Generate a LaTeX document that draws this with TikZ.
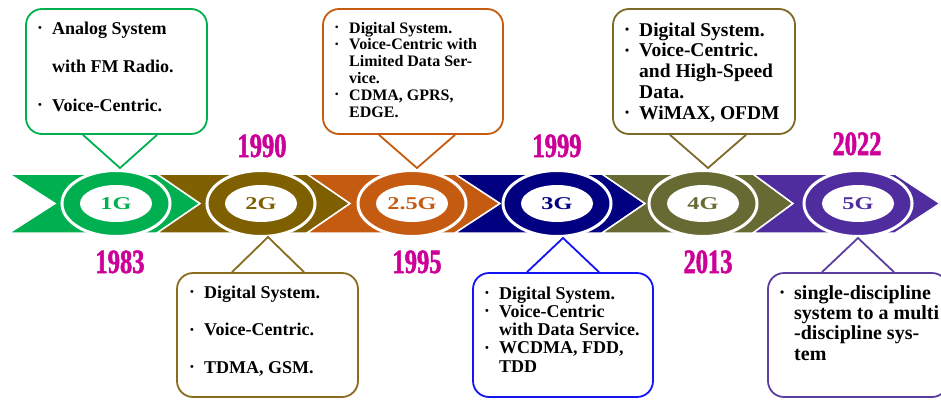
\documentclass[tikz,border=0pt]{standalone}
\usepackage{fontspec}
\setmainfont{Liberation Serif}
\newfontfamily\yearfont{Liberation Serif}[FakeStretch=0.72,FakeBold=1.5]
\newfontfamily\genfont{Liberation Serif}[FakeStretch=1.35]
\usetikzlibrary{shapes.geometric,calc}
\definecolor{cg}{HTML}{00B050}
\definecolor{cb}{HTML}{7F6000}
\definecolor{co}{HTML}{C55A11}
\definecolor{cn}{HTML}{000080}
\definecolor{cl}{HTML}{686A34}
\definecolor{cp}{HTML}{4F2D9F}
\definecolor{bxb}{HTML}{8A6C1E}
\definecolor{bxn}{HTML}{1414F5}
\definecolor{bxl}{HTML}{7D6A28}
\definecolor{bxp}{HTML}{5B3FA0}
\definecolor{cyear}{HTML}{CC0099}
\newcommand\bl{\makebox[14pt][l]{\raisebox{.3ex}{\scalebox{.6}{\textbullet}}}}
\newcommand\nb{\hspace*{14pt}}
\begin{document}
\begin{tikzpicture}[x=1pt,y=-1pt,
  seg/.style={draw=white,line width=1.5pt},
  ring/.style={ellipse,draw=white,line width=3pt,minimum width=108pt,minimum height=66pt,inner sep=0pt},
  hole/.style={ellipse,fill=white,minimum width=72pt,minimum height=37pt,inner sep=0pt},
  callbox/.style={draw,line width=1.8pt,rounded corners=16pt,fill=white,inner sep=0pt,minimum height=125pt},
  ptr/.style={line width=1.8pt,line join=miter},
  yr/.style={font=\yearfont\bfseries\fontsize{34}{34}\selectfont,text=cyear,anchor=base,inner sep=0pt},
  gl/.style={font=\genfont\bfseries\fontsize{18}{18}\selectfont,inner sep=0pt},
  txt/.style={anchor=base west,inner sep=0pt}]
\useasboundingbox (0,0) rectangle (941,399);
\clip (0,0) rectangle (941,399);
% band of chevrons
\foreach \L/\R/\T/\N/\c in {9/157/200/55/cg,157/307/350/200/cb,307/455/500/350/co,455/602/645/500/cn,602/753/793/645/cl,753/895/940/793/cp}{
  \fill[seg,fill=\c] (\L,174) -- (\R,174) -- (\T,203.5) -- (\R,233) -- (\L,233) -- (\N,203.5) -- cycle;
}
% rings
\foreach \x/\c/\t/\n in {116/cg/1G/a,261/cb/2G/b,412/co/2.5G/c,557/cn/3G/d,703/cl/4G/e,858/cp/5G/f}{
  \node[ring,fill=\c] (r\n) at (\x,203.5) {};
  \node[hole] (h\n) at (\x,203.5) {};
  \node[gl,text=\c] (g\n) at (\x,204) {\t};
}
% years
\node[yr] (y1) at (120,273) {1983};
\node[yr] (y2) at (262,157) {1990};
\node[yr] (y3) at (417,273) {1995};
\node[yr] (y4) at (557,157) {1999};
\node[yr] (y5) at (708,273) {2013};
\node[yr] (y6) at (857,155) {2022};
% pointer apexes
\coordinate (pa) at (120,168);
\coordinate (pc) at (417,168);
\coordinate (pe) at (708,168);
\coordinate (pb) at (268,237);
\coordinate (pd) at (563,238);
\coordinate (pf) at (858,238);
% boxes
\node[callbox,draw=cg,minimum width=181pt] (ba) at (116.5,71.5) {};
\node[callbox,draw=co,minimum width=180pt] (bc) at (413,71.5) {};
\node[callbox,draw=bxl,minimum width=182pt] (be) at (704,71.5) {};
\node[callbox,draw=bxb,minimum width=181pt,minimum height=124pt] (bb) at (267.5,335) {};
\node[callbox,draw=bxn,minimum width=180pt,minimum height=124pt] (bd) at (563,335) {};
\node[callbox,draw=bxp,minimum width=180pt,minimum height=124pt] (bf) at (858,335) {};
% pointers
\draw[ptr,draw=cg] ($(pa |- ba.south)+(-37,0)$) -- (pa) -- ($(pa |- ba.south)+(37,0)$);
\draw[ptr,draw=co] ($(pc |- bc.south)+(-38,0)$) -- (pc) -- ($(pc |- bc.south)+(38,0)$);
\draw[ptr,draw=bxl] ($(pe |- be.south)+(-38,0)$) -- (pe) -- ($(pe |- be.south)+(38,0)$);
\draw[ptr,draw=bxb] ($(pb |- bb.north)+(-36,0)$) -- (pb) -- ($(pb |- bb.north)+(36,0)$);
\draw[ptr,draw=bxn] ($(pd |- bd.north)+(-36,0)$) -- (pd) -- ($(pd |- bd.north)+(36,0)$);
\draw[ptr,draw=bxp] ($(pf |- bf.north)+(-36,0)$) -- (pf) -- ($(pf |- bf.north)+(36,0)$);
% texts
\node[txt,font=\bfseries\fontsize{18}{38.5}\selectfont] (ta) at (38,34) {\begin{tabular}[t]{@{}l@{}}
\bl Analog System\\ \nb with FM Radio.\\ \bl Voice-Centric.\end{tabular}};
\node[txt,font=\bfseries\fontsize{16}{16.8}\selectfont] (tc) at (335,33) {\begin{tabular}[t]{@{}l@{}}
\bl Digital System.\\ \bl Voice-Centric with\\ \nb Limited Data Ser-\\ \nb vice.\\ \bl CDMA, GPRS,\\ \nb EDGE.\end{tabular}};
\node[txt,font=\bfseries\fontsize{19.5}{20.75}\selectfont] (te) at (625,36) {\begin{tabular}[t]{@{}l@{}}
\bl Digital System.\\ \bl Voice-Centric.\\ \nb and High-Speed\\ \nb Data.\\ \bl WiMAX, OFDM\end{tabular}};
\node[txt,font=\bfseries\fontsize{18}{37.5}\selectfont] (tb) at (190,298) {\begin{tabular}[t]{@{}l@{}}
\bl Digital System.\\ \bl Voice-Centric.\\ \bl TDMA, GSM.\end{tabular}};
\node[txt,font=\bfseries\fontsize{18}{18.25}\selectfont] (td) at (485,299) {\begin{tabular}[t]{@{}l@{}}
\bl Digital System.\\ \bl Voice-Centric\\ \nb with Data Service.\\ \bl WCDMA, FDD,\\ \nb TDD\end{tabular}};
\node[txt,font=\bfseries\fontsize{20}{20.2}\selectfont] (tf) at (780,299.5) {\begin{tabular}[t]{@{}l@{}}
\bl single-discipline\\ \nb system to a multi\\ \nb -discipline sys-\\ \nb tem\end{tabular}};
\end{tikzpicture}
\end{document}
